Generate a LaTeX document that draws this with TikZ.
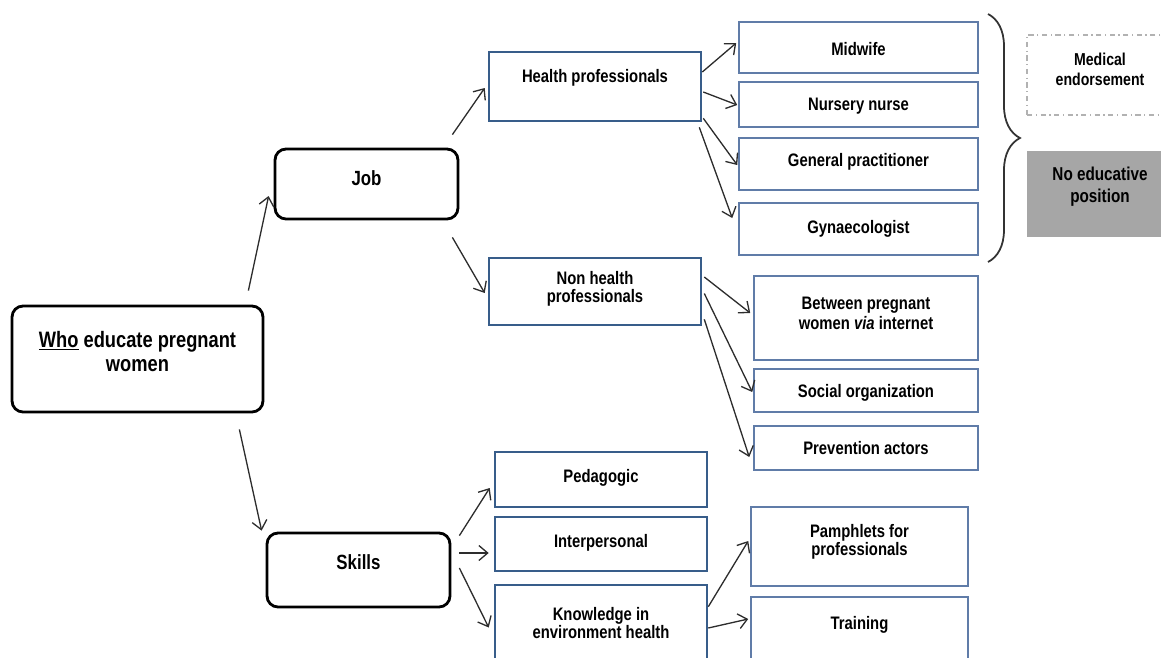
\documentclass[tikz,border=0pt]{standalone}
\usepackage{fontspec}
\setmainfont{Liberation Sans}[FakeStretch=0.82]
\usetikzlibrary{arrows.meta,calc,decorations.pathreplacing}
\definecolor{hpblue}{RGB}{56,93,138}
\definecolor{subblue}{RGB}{96,124,168}
\definecolor{arrgray}{RGB}{45,45,45}
\definecolor{boxgray}{RGB}{166,166,166}
\tikzset{
  blk/.style={draw=black, line width=1.6pt, rounded corners=0.22cm, inner sep=0pt},
  hp/.style={draw=hpblue, line width=1.5pt, inner sep=0pt},
  sub/.style={draw=subblue, line width=0.9pt, inner sep=0pt},
  txt/.style={font=\fontsize{10.3}{10.2}\selectfont\bfseries, align=center},
  onetxt/.style={txt, yshift=-1.1pt},
  bigtxt/.style={font=\fontsize{12.7}{13.6}\selectfont\bfseries, align=center},
  midtxt/.style={font=\fontsize{11.7}{12}\selectfont\bfseries, align=center},
  arr/.style={draw=arrgray, line width=0.75pt, -{Straight Barb[length=5pt,width=8.5pt]}},
}
\begin{document}
\begin{tikzpicture}[x=0.02cm,y=-0.02cm]
  \useasboundingbox (0,0) rectangle (1161,657);
  \clip (0,0) rectangle (1161,657);

  \node[blk, minimum width=5.02cm, minimum height=2.12cm,
        label={[bigtxt,yshift=4.5pt]center:{\underline{Who} educate pregnant\\women}}] (who) at (137.5,359) {};
  \node[blk, minimum width=3.66cm, minimum height=1.4cm,
        label={[midtxt,yshift=3.4pt]center:Job}] (job) at (366.5,184) {};
  \node[blk, minimum width=3.66cm, minimum height=1.48cm,
        label={[midtxt,yshift=4.5pt]center:Skills}] (skills) at (358.5,570) {};

  \node[hp, minimum width=4.24cm, minimum height=1.38cm,
        label={[onetxt,yshift=6pt]center:Health professionals}] (health) at (595,86.5) {};
  \node[hp, minimum width=4.24cm, minimum height=1.34cm,
        label={[txt,yshift=1.7pt]center:{Non health\\professionals}}] (nonhealth) at (595,291.5) {};
  \node[hp, minimum width=4.24cm, minimum height=1.1cm,
        label={[onetxt,yshift=2pt]center:Pedagogic}] (pedagogic) at (601,479.5) {};
  \node[hp, minimum width=4.24cm, minimum height=1.08cm,
        label={[onetxt,yshift=1.7pt]center:Interpersonal}] (interpersonal) at (601,544) {};
  \node[hp, minimum width=4.24cm, minimum height=1.7cm,
        label={[txt,yshift=2.5pt]center:{Knowledge in\\environment health}}] (knowledge) at (601,627.5) {};

  \node[sub, minimum width=4.78cm, minimum height=1.02cm,
        label={[onetxt]center:Midwife}] (midwife) at (858.5,47.5) {};
  \node[sub, minimum width=4.78cm, minimum height=0.9cm,
        label={[onetxt]center:Nursery nurse}] (nursery) at (858.5,104.5) {};
  \node[sub, minimum width=4.78cm, minimum height=1.04cm,
        label={[onetxt,yshift=2.3pt]center:General practitioner}] (gp) at (858.5,164) {};
  \node[sub, minimum width=4.78cm, minimum height=1.04cm,
        label={[onetxt,yshift=1.1pt]center:Gynaecologist}] (gyn) at (858.5,229) {};

  \node[sub, minimum width=4.48cm, minimum height=1.68cm,
        label={[txt,font=\fontsize{10.3}{11.3}\selectfont\bfseries,yshift=2.8pt]center:{Between pregnant\\women \textit{via} internet}}] (between) at (866,318) {};
  \node[sub, minimum width=4.48cm, minimum height=0.86cm,
        label={[onetxt]center:Social organization}] (social) at (866,390.5) {};
  \node[sub, minimum width=4.48cm, minimum height=0.88cm,
        label={[onetxt,yshift=1pt]center:Prevention actors}] (prevention) at (866,448) {};

  \node[sub, minimum width=4.34cm, minimum height=1.58cm,
        label={[txt,yshift=2.8pt]center:{Pamphlets for\\professionals}}] (pamphlets) at (859.5,546.5) {};
  \node[sub, minimum width=4.34cm, minimum height=1.46cm,
        label={[onetxt,yshift=6pt]center:Training}] (training) at (859.5,633.5) {};

  \node[draw=black!30, line width=0.7pt, dash dot, inner sep=0pt, minimum width=2.92cm, minimum height=1.6cm,
        label={[txt,font=\fontsize{9.8}{11.3}\selectfont\bfseries,yshift=3.4pt]center:{Medical\\endorsement}}] (medical) at (1100,75) {};
  \node[fill=boxgray, inner sep=0pt, minimum width=2.92cm, minimum height=1.72cm,
        label={[txt,font=\fontsize{10.6}{12.5}\selectfont\bfseries,yshift=4pt]center:{No educative\\position}}] (noedu) at (1100,194) {};

  \draw[arr] ($(who.north east)+(-16,-14)$) -- ($(job.west)+(-5,12)$);
  \draw[arr] ($(who.south east)+(-25,16)$) -- ($(skills.north west)+(-4,-1)$);
  \draw[arr] ($(job.north east)+(-7,-13)$) -- ($(health.west)+(-3,1.5)$);
  \draw[arr] ($(job.south east)+(-7,17)$) -- ($(nonhealth.west)+(-3,1.5)$);

  \draw[arr] ($(health.east)+(0,-14.5)$) -- ($(midwife.west)+(-2,-4.5)$);
  \draw[arr] ($(health.east)+(1,5.5)$) -- ($(nursery.west)+(-1,0.5)$);
  \draw[arr] ($(health.south east)+(1,-4)$) -- ($(gp.west)+(-1,1)$);
  \draw[arr] ($(health.south east)+(-3,5)$) -- ($(gyn.west)+(-6,-11)$);

  \draw[arr] ($(nonhealth.east)+(2,-14.5)$) -- ($(between.west)+(-3,-5)$);
  \draw[arr] ($(nonhealth.east)+(2,2)$) -- ($(social.west)+(-1,1.5)$);
  \draw[arr] ($(nonhealth.south east)+(2,-7)$) -- ($(prevention.west)+(-4,9)$);

  \draw[arr] ($(skills.north east)+(8,4)$) -- ($(pedagogic.west)+(-4,8.5)$);
  \draw[arr] ($(skills.east)+(8,-17)$) -- ($(interpersonal.west)+(-5,9)$);
  \draw[arr] ($(skills.east)+(8,-2)$) -- ($(knowledge.west)+(-5,0)$);

  \draw[arr] ($(knowledge.north east)+(0,23)$) -- ($(pamphlets.west)+(-2,-5.5)$);
  \draw[arr] ($(knowledge.east)+(0,0.5)$) -- ($(training.west)+(-2,-14.5)$);

  \coordinate (bracetop) at (988,14);
  \coordinate (bracebot) at (988,262);
  \draw[black!80, line width=1pt, decorate, decoration={brace, amplitude=0.64cm}] (bracetop) -- (bracebot);
\end{tikzpicture}
\end{document}
